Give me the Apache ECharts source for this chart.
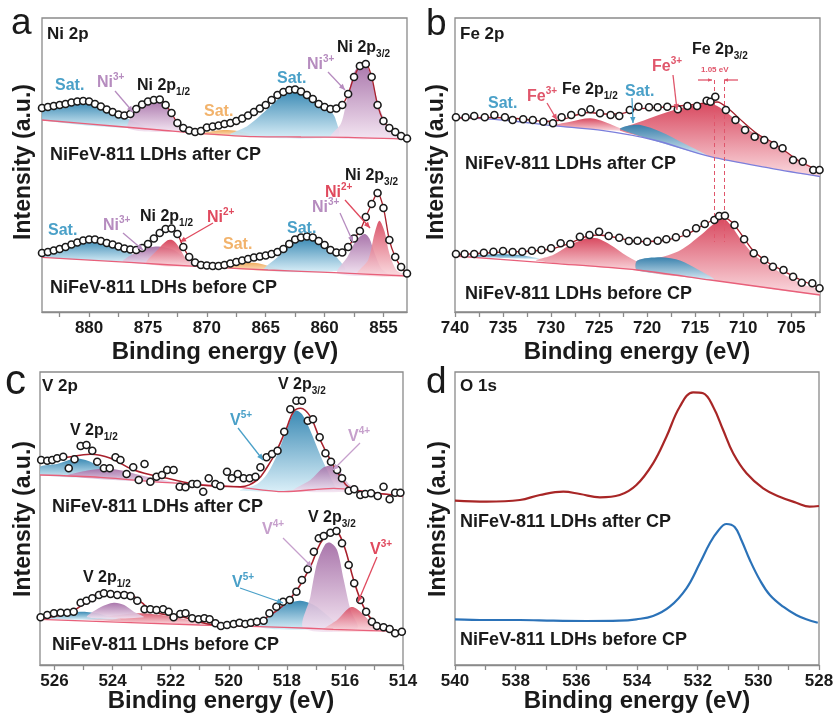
<!DOCTYPE html>
<html>
<head>
<meta charset="utf-8">
<script src="https://cdn.jsdelivr.net/npm/echarts@6.0.0/dist/echarts.min.js"></script>
<style>
  html, body { margin: 0; padding: 0; background: #fff; }
  #main { width: 837px; height: 718px; }
</style>
</head>
<body>
<div id="main"></div>
<script>
// ---------- tick labels ----------
var niTicks = [855, 857.5, 860, 862.5, 865, 867.5, 870, 872.5, 875, 877.5, 880, 882.5];
var niLabels = [855, 860, 865, 870, 875, 880];
var feTicks = [702.5, 705, 707.5, 710, 712.5, 715, 717.5, 720, 722.5, 725, 727.5, 730, 732.5, 735, 737.5, 740];
var feLabels = [705, 710, 715, 720, 725, 730, 735, 740];
var vTicks = [514, 515, 516, 517, 518, 519, 520, 521, 522, 523, 524, 525, 526];
var vLabels = [514, 516, 518, 520, 522, 524, 526];
var oTicks = [528, 529, 530, 531, 532, 533, 534, 535, 536, 537, 538, 539, 540];
var oLabels = [528, 530, 532, 534, 536, 538, 540];

// ---------- Ni 2p (binding energy, intensity a.u.) ----------
var niAfter = [[884,204],[883.5,205],[883,206],[882.5,207],[882,208],[881.5,209.5],[881,210.5],[880.5,211],[880,210.5],[879.5,208],[879,205.5],[878.5,202.5],[878,200],[877.5,197.5],[877,196.5],[876.5,198],[876,203],[875.5,207.5],[875,210.5],[874.5,212],[874,212.5],[873.5,207],[873,199],[872.5,189],[872,184],[871.5,181.5],[871,180],[870.5,181],[870,184.5],[869.5,185.5],[869,186.5],[868.5,188],[868,189],[867.5,191],[867,193.5],[866.5,196.5],[866,200],[865.5,203.5],[865,207],[864.5,212],[864,217],[863.5,220],[863,222],[862.5,222.5],[862,220.5],[861.5,217],[861,213],[860.5,208],[860,205],[859.5,203],[859,203.5],[858.5,207],[858,218],[857.5,235],[857,246],[856.5,248],[856,235],[855.5,207],[855,191],[854.5,184],[854,180],[853.5,176],[853,173.5]];
var niBefore = [[884,59],[883.5,60],[883,61.5],[882.5,63],[882,65],[881.5,67.5],[881,69.5],[880.5,71.5],[880,72.5],[879.5,72.5],[879,71],[878.5,69],[878,67.5],[877.5,65.5],[877,63.5],[876.5,62.5],[876,62],[875.5,64],[875,68],[874.5,73.5],[874,79],[873.5,83],[873,83.5],[872.5,78],[872,65],[871.5,55],[871,49.5],[870.5,47],[870,46.5],[869.5,46],[869,46],[868.5,47],[868,48.5],[867.5,50],[867,51.5],[866.5,53],[866,54.5],[865.5,55.5],[865,56.5],[864.5,58],[864,60],[863.5,63],[863,68],[862.5,72.5],[862,74.5],[861.5,75.5],[861,74.5],[860.5,71],[860,67],[859.5,62],[859,59.5],[858.5,59.5],[858,65],[857.5,73.5],[857,81],[856.5,95],[856,108],[855.5,119],[855,104],[854.5,72],[854,55],[853.5,45],[853,38.5]];
var niAfterBg = [[884,192],[878,186],[874,182],[870.8,178.7],[866,175.3],[862,175],[858,174.7],[855,173.7],[853,172.7]];
var niBeforeBg = [[884,54.7],[876.2,49.3],[870.5,45.3],[864.8,42],[859.2,39.3],[853,36]];
var niA_sat1 = [[884,192],[884,202.7],[882.75,206],[881.05,210],[879.6,208],[878.2,201],[876.8,193.7],[875.1,183.7]];
var niA_ni3a = [[876.65,183.3],[876.2,200.3],[875.4,208],[874.2,212],[873.6,210.3],[873.1,200.3],[872.5,188],[871.95,181]];
var niA_sat2 = [[870.5,178],[869.4,181],[868.25,182],[867.1,180.3],[865.7,175.3]];
var niA_sat3 = [[868,177],[866.55,186],[865.1,200.3],[863.7,215.3],[862.6,221.3],[861.45,217],[860.3,207],[859.5,201],[859.1,194],[858.9,175.5]];
var niA_ni3b = [[859.45,174.7],[858.6,188.7],[858.05,215.3],[857.45,240.3],[856.75,248.7],[856.3,243.7],[855.9,228.7],[855.35,205.3],[854.6,185.3],[853.75,177],[853.05,173.7]];
var niB_sat1 = [[884,54.7],[884,58.7],[882.5,62.7],[880.05,72],[878.5,68],[876.8,60.3],[875.4,52.7],[874.2,49.3]];
var niB_ni3a = [[877.1,50.3],[875.9,60.3],[874.8,64.7],[873.95,65.3],[872.8,62],[871.7,52.7],[870.8,47]];
var niB_ni2a = [[875.1,48.7],[874.2,62],[873.4,71.3],[872.95,72],[872.5,67],[871.8,53.7],[871.25,46]];
var niB_sat2 = [[869.1,44.7],[867.7,47.7],[866,49.3],[864.55,45.3],[863.15,40.3]];
var niB_sat3 = [[865.1,42],[864,54.7],[862.85,67],[861.7,73.7],[860.9,72.7],[859.75,63.7],[858.9,53.7],[858.3,42]];
var niB_ni3b = [[858.9,38.7],[858.05,55.3],[857.3,72],[856.6,78],[856.2,73.7],[855.75,58.7],[855.2,43.7],[854.6,37]];
var niB_ni2b = [[857.2,38],[856.3,52],[855.75,78.7],[855.35,91.3],[854.9,80.3],[854.5,58.7],[853.9,42],[853.05,36]];

// ---------- Fe 2p ----------
var feAfter = [[739.9,194.7],[738.9,194.7],[738,196],[736.9,194.7],[735.9,197],[734.8,194.7],[734,192],[732.9,192.7],[731.9,192],[730.8,190.3],[729.8,188.7],[728.9,194.7],[727.9,197],[726.8,199.7],[725.9,202.7],[724.9,198.7],[723.8,197],[722.9,196],[721.8,202],[720.9,205.3],[719.8,204.7],[718.9,204.7],[717.9,205.3],[716.8,202.7],[715.8,206],[714.8,206],[713.8,211.3],[713.4,210.3],[712.9,215.3],[711.8,202],[710.8,192],[709.8,182],[708.8,175.3],[707.8,172],[706.8,167],[705.9,163.7],[704.8,152],[703.8,150.3],[702.7,142],[702.05,142]];
var feBefore = [[739.9,58],[739,58],[738,58],[737,59.3],[736,60.3],[735,61],[734,60],[733,60.3],[732,61.3],[731,62],[730,63.7],[729,68.7],[728,68],[727,75.3],[726,77],[725,80.3],[724,76],[722.9,74.3],[721.9,71],[721,71.3],[720,70.3],[718.9,71.3],[718,72.7],[717,74.7],[715.9,78.7],[714.9,83.7],[714,88],[713,92],[712.5,96],[711.9,96.3],[710.9,87],[709.9,72.7],[708.9,58.7],[707.8,52],[706.9,45.3],[705.8,42],[704.8,35.3],[703.9,29.3],[702.8,28.7],[702.05,23.7]];
var feAfterFit = [[740,194],[736,194.5],[733,193],[730.5,190.5],[729,192],[727,198],[726,199.5],[724.5,198],[723,198],[721,203],[718,205],[715.5,207],[713.5,209.5],[712.7,210],[711.5,203],[710,190],[708.5,178],[707,170],[705.5,160],[704,150],[702,141]];
var feBeforeFit = [[740,57],[736,59.5],[732,61],[730,63],[728,69],[726.3,75.5],[725,77],[723.5,75],[721.5,71],[720,70.5],[718,72],[716,77],[714.5,85],[713,92.5],[712.2,95],[711.2,90],[710,75],[709,62],[707.5,50],[706,42],[704,32],[702,24]];
var feAfterBg = [[740,194.7],[735,192],[729.8,186.3],[724.55,181.3],[719.3,172],[713.4,155.3],[707.1,143.7],[702,135.5]];
var feBeforeBg = [[740,56],[729.8,48.7],[721.05,42],[713.4,32],[702,17]];
var feA_fe3a = [[729.8,186.3],[728,190.3],[725.9,193.7],[724.2,189.3],[722.8,183.7],[722.1,181]];
var feA_fe3b = [[722.8,183.3],[721.4,188],[719.3,195.3],[717.2,202],[715.1,207],[713.7,208.7],[712.7,206],[711.6,198.7],[710.2,187],[708.8,178.7],[707.1,170.3],[705.35,158.7],[703.6,149.3],[702,140.3],[702,135.5],[707.1,143.7],[713.4,155.3],[719.3,172],[722.8,181.3]];
var feA_sat = [[722.8,182.7],[722.1,186],[720.7,187],[718.6,180.3],[716.2,168.7],[713.7,156]];
var feB_sat1 = [[739,55.5],[735.7,57.8],[733.3,57],[731.2,53],[735,54]];
var feB_fe3a = [[731.5,51.3],[729.8,57],[728,67],[726.3,73.7],[725.2,73.7],[723.8,67],[722.1,56],[720,45.3],[718.6,40.3]];
var feB_fe3b = [[721.05,51.3],[718.6,54.7],[716.5,62],[714.4,77],[713,88.7],[712.15,93.7],[711.3,87],[710.2,72],[708.84,57],[707.1,45.3],[705.35,35.3],[703.6,27],[702,22],[702,17],[713.4,32],[721.05,42]];
var feB_sat2 = [[721.05,51.3],[718.6,54.7],[716.5,51.3],[714.76,42.7],[713,32],[717.2,37],[721.05,42]];
var feShift = [713.05, 712.0];

// ---------- V 2p ----------
var vAfter = [[526.46,205],[526.25,204.3],[526.08,205],[525.91,206.7],[525.7,208.3],[525.51,196.7],[525.31,205.7],[525.1,219],[524.9,220],[524.7,214.3],[524.53,203.3],[524.3,196.7],[524.1,196.7],[523.9,207.7],[523.73,205],[523.52,191],[523.29,197.7],[523.1,185],[522.9,201],[522.7,183.3],[522.49,188.3],[522.3,190],[522.12,195],[521.9,195],[521.69,178.3],[521.49,177.7],[521.26,181],[521.09,181],[520.88,173.3],[520.69,186.7],[520.46,181],[520.29,179],[520.06,193.3],[519.89,186.7],[519.69,191],[519.49,186.7],[519.28,186.7],[519.08,188.3],[518.91,197.7],[518.7,207.7],[518.51,211],[518.32,214.3],[518.09,233.3],[517.88,255.7],[517.67,264.3],[517.48,264.3],[517.28,244.3],[517.1,245.7],[516.87,227.7],[516.67,211.7],[516.48,203.3],[516.27,195],[516.1,186.7],[515.87,174.3],[515.68,175.7],[515.47,170],[515.3,171],[515.1,171.7],[514.87,169],[514.67,178.3],[514.46,165.7],[514.27,172.3],[514.09,172.3]];
var vBefore = [[526.48,47.7],[526.25,50],[526.02,51.7],[525.79,52.3],[525.56,52.3],[525.34,53.3],[525.1,62.3],[524.9,64.3],[524.7,66.7],[524.47,70],[524.3,71.7],[524.07,71],[523.84,70],[523.6,70],[523.38,69],[523.15,64.3],[522.9,55.7],[522.7,55.7],[522.49,55],[522.26,55.7],[522.07,53.3],[521.9,47.7],[521.67,51],[521.49,51.7],[521.26,46.7],[521.04,45.7],[520.84,46.7],[520.66,45.7],[520.46,41.7],[520.27,39],[520.06,40],[519.83,41],[519.63,42.3],[519.43,41],[519.24,42.3],[519.03,43.3],[518.8,44.3],[518.6,51.7],[518.36,58.3],[518.13,63.3],[517.9,65],[517.67,73.3],[517.48,85],[517.28,95.7],[517.07,113.3],[516.9,126.7],[516.73,129],[516.5,132.3],[516.29,134],[516.1,121.7],[515.87,100],[515.68,81.7],[515.47,65],[515.27,53.3],[515.07,43.3],[514.9,39],[514.67,37.7],[514.46,36],[514.27,31.7],[514.04,33.3]];
var vAfterFit = [[526.5,203.3],[525.56,207.7],[524.76,210.7],[524.07,206.7],[523.27,195],[522.12,186.7],[520.98,180],[519.6,178.3],[519.02,185],[518.68,197.7],[518.34,215],[517.99,238.3],[517.77,253.3],[517.53,256.7],[517.19,248.3],[516.85,225],[516.5,205],[516.16,188.3],[515.87,177.7],[515.36,173.3],[514,169.7]];
var vBeforeFit = [[526.5,46.7],[525.56,51.7],[524.87,63.3],[524.42,71.7],[523.5,71.7],[523.04,63.3],[522.58,53.3],[521.55,47.7],[520.4,40],[519.14,41.7],[518.57,50],[518.1,60],[517.65,75],[517.19,98.3],[516.85,121.7],[516.56,131.7],[516.33,133.3],[516.04,120],[515.7,85],[515.36,58.3],[515.01,43.3],[514.55,36.7],[514,33.3]];
var vAfterBg = [[526.5,190],[524.42,187.7],[522.12,182.3],[519.83,178.3],[518.1,173.3],[516.39,176.7],[515.24,173.3],[514,168.3]];
var vBeforeBg = [[526.5,45.7],[521,40],[518.1,37.7],[516.4,35.7],[514,33.3]];
var vA_v5a = [[526.5,190],[526.5,198.3],[525.91,201],[525.34,206.3],[524.93,205],[524.42,198.3],[523.9,191.7],[523.38,186.7]];
var vA_v4a = [[525.56,189],[524.76,195],[524.07,196.3],[523.5,193.3],[522.93,189],[522.12,184.3],[521.43,181]];
var vA_v5b = [[519.6,174.3],[519.02,181],[518.68,191],[518.34,210],[517.99,236.7],[517.71,254.3],[517.48,251],[517.19,234.3],[516.85,210],[516.56,191.7],[516.33,178.3],[516.21,175]];
var vA_v4b = [[517.77,174.3],[517.19,185],[516.73,197.7],[516.44,199],[516.16,193.3],[515.87,181],[515.47,174.3]];
var vB_v5a = [[526.5,45.7],[526.5,47.7],[525.79,51.7],[525.1,53.3],[524.53,51.7],[524.07,47.7],[523.73,45.7]];
var vB_v3a = [[524.99,45.7],[524.07,49],[523.04,51.7],[522.12,49],[521.2,44.3],[520.4,40]];
var vB_v4a = [[524.87,47.7],[524.42,57.7],[523.96,62.3],[523.6,60],[523.27,53.3],[522.93,47.7]];
var vB_v5b = [[518.91,37.7],[518.34,55],[517.88,62.3],[517.53,64.3],[517.07,60],[516.62,50],[516.27,41],[516.04,36.7]];
var vB_v4b = [[517.42,36.7],[517.19,68.3],[516.96,101.7],[516.67,121],[516.5,122.3],[516.27,115],[516.04,85],[515.81,55],[515.58,36.7]];
var vB_v3b = [[516.73,35],[516.27,45],[515.87,56.7],[515.7,57.7],[515.41,51.7],[515.01,40],[514.55,34.3]];

// ---------- O 1s ----------
var oAfter = [[540,164.3],[538.96,163.3],[537.86,165],[537.2,170],[536.43,173.3],[535.88,171],[535.22,167.7],[534.57,170],[534.02,180],[533.47,201.7],[533.03,228.3],[532.59,258.3],[532.15,272.7],[531.82,271.7],[531.49,258.3],[531.16,235],[530.83,211.7],[530.39,191.7],[529.84,176.7],[529.3,168.3],[528.75,162.3],[528.31,158.3],[528,159]];
var oBefore = [[540,45.7],[538.96,45],[537.86,45],[536.76,44.3],[535.66,44],[534.57,44.3],[534.02,45.7],[533.47,49],[532.92,58.3],[532.37,76.7],[531.93,101.7],[531.6,121.7],[531.33,134],[531.05,141],[530.78,138],[530.56,125],[530.28,105],[529.95,85],[529.62,70],[529.18,58.3],[528.75,50],[528.42,45.7],[528.04,42.3]];

var FONT = '"Liberation Sans", Arial, Helvetica, sans-serif';
var FILL = {
    blue: ['#2a80ae', '#d6edf7'],
    lilac: ['#a26aa4', '#f3e3f1'],
    red: ['#d53a52', '#fad6dc'],
    orange: ['#efa550', '#fde8cf']
};

function grad(k) {
    return new echarts.graphic.LinearGradient(0, 0, 0, 1, [
        { offset: 0, color: FILL[k][0] }, { offset: 1, color: FILL[k][1] }
    ]);
}

// one fitted component = one closed polygon through the axes
function peak(g, pts, k, op) {
    return {
        type: 'custom', xAxisIndex: g, yAxisIndex: g, silent: true, clip: true, z: 1,
        data: pts,
        renderItem: function (params, api) {
            if (params.dataIndex !== 0) return null;
            return {
                type: 'polygon',
                shape: { points: pts.map(function (p) { return api.coord(p); }), smooth: 0.3 },
                style: { fill: grad(k), opacity: op || 0.92 }
            };
        }
    };
}
function curve(g, pts, color, w, z, sm) {
    return {
        type: 'line', xAxisIndex: g, yAxisIndex: g, data: pts, showSymbol: false, silent: true,
        smooth: sm === undefined ? 0.3 : sm, lineStyle: { color: color, width: w }, z: z
    };
}
function dots(g, pts) {
    return {
        type: 'scatter', xAxisIndex: g, yAxisIndex: g, data: pts, symbol: 'circle', symbolSize: 7, silent: true, z: 5,
        itemStyle: { color: '#fff', borderColor: '#1a1a1a', borderWidth: 1.6, opacity: 1 }
    };
}
function xAx(g, min, max, labels, ticks) {
    return {
        type: 'value', gridIndex: g, min: min, max: max, inverse: true,
        axisLine: { show: true, onZero: false, lineStyle: { color: '#8a8a8a', width: 1.3 } },
        axisTick: { show: true, length: 5, customValues: ticks, lineStyle: { color: '#8a8a8a', width: 1.3 } },
        axisLabel: { customValues: labels, fontSize: 17, fontWeight: 'bold', color: '#1a1a1a', fontFamily: FONT, margin: 8 },
        splitLine: { show: false }
    };
}
function yAx(g, max) {
    return { type: 'value', gridIndex: g, min: 0, max: max, show: false };
}

var RICH = {
    m: { fontSize: 16, fontWeight: 'bold', fontFamily: FONT, lineHeight: 22 },
    sup: { fontSize: 10, fontWeight: 'bold', fontFamily: FONT, lineHeight: 12, verticalAlign: 'top' },
    sub: { fontSize: 10, fontWeight: 'bold', fontFamily: FONT, lineHeight: 12, verticalAlign: 'bottom' }
};
function rt(s, x, y, color) {
    return { type: 'text', x: x, y: y, z: 100, silent: true,
        style: { text: s, rich: RICH, fill: color, align: 'left', verticalAlign: 'middle' } };
}
function tx(s, x, y, size, opt) {
    opt = opt || {};
    return { type: 'text', x: x, y: y, z: 100, silent: true, rotation: opt.rot || 0,
        style: { text: s, fill: opt.color || '#1a1a1a', fontSize: size, fontWeight: opt.weight || 'bold',
            fontFamily: FONT, align: opt.align || 'left', verticalAlign: 'middle' } };
}
function arrow(x1, y1, x2, y2, color, L) {
    L = L || 6;
    var a = Math.atan2(y2 - y1, x2 - x1), W = L * 0.45;
    return [
        { type: 'line', z: 100, silent: true, shape: { x1: x1, y1: y1, x2: x2, y2: y2 }, style: { stroke: color, lineWidth: 1.3 } },
        { type: 'polygon', z: 100, silent: true, shape: { points: [[x2, y2],
            [x2 - L * Math.cos(a) + W * Math.sin(a), y2 - L * Math.sin(a) - W * Math.cos(a)],
            [x2 - L * Math.cos(a) - W * Math.sin(a), y2 - L * Math.sin(a) + W * Math.cos(a)]] }, style: { fill: color } }
    ];
}

var C = { blue: '#4aa0c8', lilac: '#b68cbf', red: '#e04a5e', orange: '#f2b36c', fe: '#e0566b', v4: '#c6a0cc' };

var graphics = [
    tx('a', 11, 24, 37, { weight: 'normal' }), tx('b', 426, 25, 37, { weight: 'normal' }),
    tx('c', 5, 382, 42, { weight: 'normal' }), tx('d', 426, 383, 37, { weight: 'normal' }),
    tx('Intensity (a.u.)', 24, 162, 23, { rot: Math.PI / 2, align: 'center' }),
    tx('Intensity (a.u.)', 437, 162, 23, { rot: Math.PI / 2, align: 'center' }),
    tx('Intensity (a.u.)', 24, 519, 23, { rot: Math.PI / 2, align: 'center' }),
    tx('Intensity (a.u.)', 439, 519, 23, { rot: Math.PI / 2, align: 'center' }),
    tx('Binding energy (eV)', 225, 352, 24, { align: 'center' }),
    tx('Binding energy (eV)', 637, 352, 24, { align: 'center' }),
    tx('Binding energy (eV)', 221, 701, 24, { align: 'center' }),
    tx('Binding energy (eV)', 637, 701, 24, { align: 'center' }),
    // a
    tx('Ni 2p', 47, 34, 17),
    rt('{m|Sat.}', 55, 86, C.blue), rt('{m|Ni}{sup|3+}', 97, 83, C.lilac), rt('{m|Ni 2p}{sub|1/2}', 137, 86, '#1a1a1a'),
    rt('{m|Sat.}', 204, 112, C.orange), rt('{m|Sat.}', 277, 79, C.blue), rt('{m|Ni}{sup|3+}', 307, 65, C.lilac),
    rt('{m|Ni 2p}{sub|3/2}', 337, 48, '#1a1a1a'),
    tx('NiFeV-811 LDHs after CP', 50, 155, 18),
    rt('{m|Ni 2p}{sub|3/2}', 345, 176, '#1a1a1a'), rt('{m|Ni}{sup|2+}', 325, 193, C.red), rt('{m|Ni}{sup|3+}', 312, 208, C.lilac),
    rt('{m|Sat.}', 287, 229, C.blue), rt('{m|Sat.}', 223, 245, C.orange), rt('{m|Ni}{sup|2+}', 207, 218, C.red),
    rt('{m|Ni 2p}{sub|1/2}', 140, 217, '#1a1a1a'), rt('{m|Ni}{sup|3+}', 103, 226, C.lilac), rt('{m|Sat.}', 48, 231, C.blue),
    tx('NiFeV-811 LDHs before CP', 50, 288, 18),
    // b
    tx('Fe 2p', 460, 34, 17),
    rt('{m|Fe 2p}{sub|3/2}', 692, 50, '#1a1a1a'), rt('{m|Fe}{sup|3+}', 652, 67, C.fe), rt('{m|Sat.}', 625, 92, C.blue),
    rt('{m|Fe 2p}{sub|1/2}', 562, 90, '#1a1a1a'), rt('{m|Fe}{sup|3+}', 527, 97, C.fe), rt('{m|Sat.}', 488, 104, C.blue),
    tx('1.05 eV', 701, 70, 8, { color: C.fe }),
    tx('NiFeV-811 LDHs after CP', 465, 164, 18),
    tx('NiFeV-811 LDHs before CP', 465, 294, 18),
    // c
    tx('V 2p', 42, 386, 17),
    rt('{m|V 2p}{sub|3/2}', 278, 385, '#1a1a1a'), rt('{m|V}{sup|5+}', 230, 421, C.blue), rt('{m|V}{sup|4+}', 348, 437, C.v4),
    rt('{m|V 2p}{sub|1/2}', 70, 431, '#1a1a1a'),
    tx('NiFeV-811 LDHs after CP', 52, 507, 18),
    rt('{m|V 2p}{sub|3/2}', 308, 518, '#1a1a1a'), rt('{m|V}{sup|4+}', 262, 530, C.v4), rt('{m|V}{sup|3+}', 370, 550, C.red),
    rt('{m|V}{sup|5+}', 232, 583, C.blue), rt('{m|V 2p}{sub|1/2}', 83, 578, '#1a1a1a'),
    tx('NiFeV-811 LDHs before CP', 52, 645, 18),
    // d
    tx('O 1s', 460, 386, 17),
    tx('NiFeV-811 LDHs after CP', 460, 522, 18),
    tx('NiFeV-811 LDHs before CP', 460, 640, 18)
];
[
    [115, 91, 133, 112, C.lilac], [328, 72, 345, 90, C.lilac], [345, 200, 370, 228, C.red], [340, 213, 353, 242, C.lilac],
    [213, 223, 180, 242, C.red], [123, 233, 143, 250, C.lilac],
    [547, 103, 557, 120, C.fe], [632, 98, 633, 123, C.blue], [673, 75, 677, 110, C.fe],
    [698, 80, 712, 80, C.fe, 4], [738, 80, 724, 80, C.fe, 4],
    [238, 428, 263, 460, C.blue], [360, 443, 333, 470, C.v4], [283, 538, 312, 567, C.v4],
    [377, 557, 358, 602, C.red], [240, 588, 283, 603, C.blue]
].forEach(function (r) { graphics = graphics.concat(arrow(r[0], r[1], r[2], r[3], r[4], r[5])); });

var BG = '#e8607a';
var FIT = '#a8202c';
var series = [
    // a
    peak(0, niA_sat1, 'blue'), peak(0, niA_ni3a, 'lilac'), peak(0, niA_sat2, 'orange'), peak(0, niA_sat3, 'blue'), peak(0, niA_ni3b, 'lilac'),
    peak(0, niB_sat1, 'blue'), peak(0, niB_ni3a, 'lilac'), peak(0, niB_ni2a, 'red'), peak(0, niB_sat2, 'orange'),
    peak(0, niB_sat3, 'blue'), peak(0, niB_ni3b, 'lilac'), peak(0, niB_ni2b, 'red', 0.85),
    curve(0, niAfterBg, BG, 1.3, 2), curve(0, niBeforeBg, BG, 1.3, 2),
    curve(0, niAfter, FIT, 1.3, 3), curve(0, niBefore, FIT, 1.3, 3),
    dots(0, niAfter), dots(0, niBefore),
    // b
    peak(1, feA_fe3a, 'red'), peak(1, feA_fe3b, 'red'), peak(1, feA_sat, 'blue'),
    peak(1, feB_sat1, 'blue'), peak(1, feB_fe3a, 'red'), peak(1, feB_fe3b, 'red'), peak(1, feB_sat2, 'blue'),
    curve(1, feAfterBg, '#7b7fdc', 1.3, 2),
    Object.assign(curve(1, feBeforeBg, BG, 1.3, 2), {
        markLine: {
            silent: true, symbol: ['none', 'none'], label: { show: false },
            lineStyle: { color: C.fe, type: [4, 3], width: 1 },
            data: [
                [{ coord: [feShift[0], 232] }, { coord: [feShift[0], 70] }],
                [{ coord: [feShift[1], 232] }, { coord: [feShift[1], 70] }]
            ]
        }
    }),
    curve(1, feAfterFit, FIT, 1.3, 3), curve(1, feBeforeFit, FIT, 1.3, 3),
    dots(1, feAfter), dots(1, feBefore),
    // c
    peak(2, vA_v5a, 'blue'), peak(2, vA_v4a, 'lilac'), peak(2, vA_v5b, 'blue'), peak(2, vA_v4b, 'lilac', 0.85),
    peak(2, vB_v3a, 'red', 0.8), peak(2, vB_v5a, 'blue'), peak(2, vB_v4a, 'lilac'),
    peak(2, vB_v5b, 'blue'), peak(2, vB_v4b, 'lilac'), peak(2, vB_v3b, 'red', 0.8),
    curve(2, vAfterBg, BG, 1.3, 2), curve(2, vBeforeBg, BG, 1.3, 2),
    curve(2, vAfterFit, FIT, 1.6, 3, 0.4), curve(2, vBeforeFit, FIT, 1.6, 3, 0.4),
    dots(2, vAfter), dots(2, vBefore),
    // d
    curve(3, oAfter, '#a82626', 2.2, 3, 0.4), curve(3, oBefore, '#2b72b8', 2.2, 3, 0.4)
];

var frame = { show: true, borderColor: '#8a8a8a', borderWidth: 1.3, backgroundColor: 'transparent' };
var option = {
    animation: false,
    backgroundColor: '#fff',
    grid: [
        Object.assign({ left: 42, top: 18, width: 365, height: 294 }, frame),
        Object.assign({ left: 455, top: 18, width: 365, height: 294 }, frame),
        Object.assign({ left: 40, top: 372, width: 363, height: 293 }, frame),
        Object.assign({ left: 455, top: 372, width: 364, height: 293 }, frame)
    ],
    xAxis: [
        xAx(0, 853, 884, niLabels, niTicks),
        xAx(1, 702, 740, feLabels, feTicks),
        xAx(2, 514, 526.5, vLabels, vTicks),
        xAx(3, 528, 540, oLabels, oTicks)
    ],
    yAxis: [yAx(0, 294), yAx(1, 294), yAx(2, 293), yAx(3, 293)],
    series: series,
    graphic: graphics
};

var myChart = echarts.init(document.getElementById('main'), null, { renderer: 'canvas' });
myChart.setOption(option);
</script>
</body>
</html>
